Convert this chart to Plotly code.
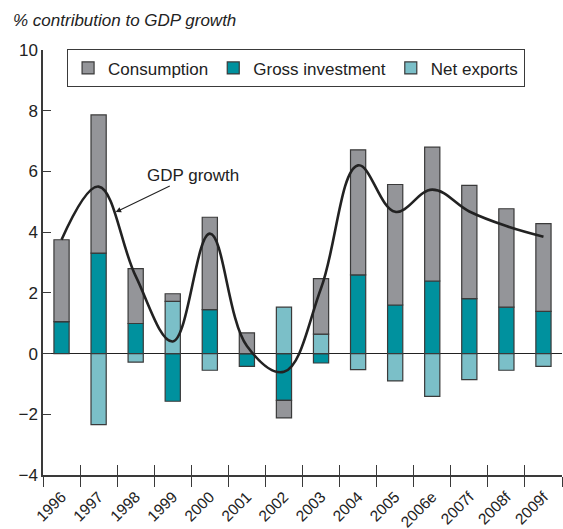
"""Contribution to GDP growth — stacked bars with GDP growth line."""

import plotly.graph_objects as go

years = ["1996", "1997", "1998", "1999", "2000", "2001", "2002",
         "2003", "2004", "2005", "2006e", "2007f", "2008f", "2009f"]
consumption = [2.70, 4.55, 1.81, 0.25, 3.04, 0.68, -0.58,
               1.83, 4.12, 3.97, 4.41, 3.73, 3.24, 2.89]
investment = [1.05, 3.31, 0.99, -1.57, 1.45, -0.42, -1.54,
              -0.31, 2.59, 1.60, 2.39, 1.81, 1.53, 1.39]
net_exports = [0.0, -2.34, -0.28, 1.72, -0.55, 0.0, 1.53,
               0.64, -0.53, -0.90, -1.41, -0.86, -0.55, -0.42]
gdp_growth = [3.75, 5.50, 2.55, 0.40, 3.95, 0.25, -0.60,
              2.15, 6.20, 4.67, 5.40, 4.68, 4.20, 3.85]

FONT = "Liberation Sans, Arial, sans-serif"
INK = "#222222"
EDGE = "#3a3a3a"

fig = go.Figure()

bar_style = dict(width=0.41, marker_line_color=EDGE, marker_line_width=1.2)
fig.add_trace(go.Bar(x=years, y=investment, name="Gross investment",
                     marker_color="#00919e", legendrank=2, **bar_style))
fig.add_trace(go.Bar(x=years, y=net_exports, name="Net exports",
                     marker_color="#7bbfc8", legendrank=3, **bar_style))
fig.add_trace(go.Bar(x=years, y=consumption, name="Consumption",
                     marker_color="#949599", legendrank=1, **bar_style))

fig.add_trace(go.Scatter(
    x=years, y=gdp_growth, mode="lines", name="GDP growth",
    line=dict(color=INK, width=2.6, shape="spline", smoothing=1.1),
    showlegend=False,
))

# invisible helper on an overlaid axis so the x ticks cross the axis line
fig.add_trace(go.Scatter(
    x=years, y=gdp_growth, xaxis="x2", mode="none",
    showlegend=False, hoverinfo="skip",
))

fig.add_annotation(
    x=1.46, y=4.66, xref="x", yref="y",
    text="GDP growth", showarrow=True,
    ax=77, ay=-37, arrowhead=2, arrowsize=1, arrowwidth=1.1,
    arrowcolor=INK, standoff=0,
    font=dict(family=FONT, size=17, color=INK),
)

fig.update_layout(
    width=563, height=529,
    barmode="relative",
    paper_bgcolor="white", plot_bgcolor="white",
    font=dict(family=FONT, size=17, color=INK),
    margin=dict(l=43, r=1, t=50, b=54, autoexpand=False),
    title=dict(
        text="<i>% contribution to GDP growth</i>",
        x=13 / 563, xanchor="left", xref="container",
        y=1 - 20 / 529, yanchor="middle", yref="container",
        font=dict(family=FONT, size=17, color=INK),
    ),
    legend=dict(
        orientation="h", x=0.046, xanchor="left", y=1.002, yanchor="top",
        bordercolor=EDGE, borderwidth=1.2, bgcolor="white",
        font=dict(family=FONT, size=17, color=INK),
        traceorder="normal",
    ),
    xaxis=dict(
        type="category", categoryorder="array", categoryarray=years,
        range=[-0.5, 13.5], automargin=False,
        showline=True, linecolor=EDGE, linewidth=1.5,
        ticks="outside", tickson="boundaries", ticklen=10,
        tickcolor=EDGE, tickwidth=1.2,
        tickangle=-45, tickfont=dict(size=15.5), ticklabelstandoff=5,
        showgrid=False, zeroline=False,
    ),
    xaxis2=dict(
        type="category", categoryorder="array", categoryarray=years,
        range=[-0.5, 13.5], overlaying="x", anchor="y", side="bottom",
        automargin=False,
        ticks="inside", tickson="boundaries", ticklen=10,
        tickcolor=EDGE, tickwidth=1.2,
        showticklabels=False, showline=False, showgrid=False,
    ),
    yaxis=dict(
        range=[-4, 10], tickvals=[-4, -2, 0, 2, 4, 6, 8, 10],
        ticktext=["\u22124", "\u22122", "0", "2", "4", "6", "8", "10"],
        automargin=False,
        showline=True, linecolor=EDGE, linewidth=1.5,
        ticks="inside", ticklen=8, tickcolor=EDGE, tickwidth=1.2,
        showgrid=False,
        zeroline=True, zerolinecolor=INK, zerolinewidth=1.2,
    ),
)

# the page body has a default 8px margin; drop it so the figure sits at 0,0
fig.write_html(
    "out.html",
    config={"displayModeBar": False},
    post_script="document.body.style.margin='0';",
)
